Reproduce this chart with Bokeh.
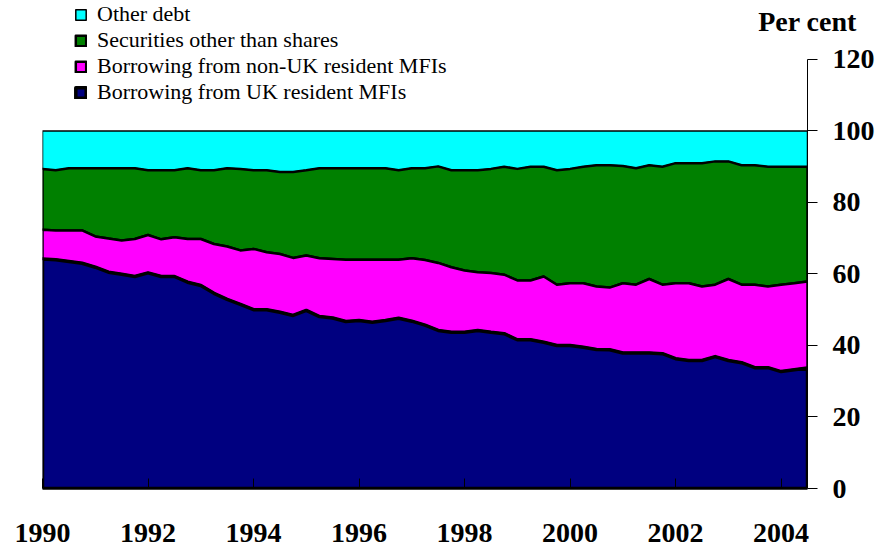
from bokeh.plotting import figure
from bokeh.models import Range1d, FixedTicker, Legend, LegendItem, LinearAxis
from bokeh.embed import file_html
from bokeh.resources import INLINE
import numpy as np

# Quarterly observations, 1990 Q1 to 2004 Q3
quarters = [1990 + q / 4 for q in range(59)]

uk_mfi = [64.2, 64.0, 63.5, 63.0, 61.9, 60.5, 59.9, 59.3, 60.3, 59.3,
          59.3, 57.7, 56.8, 54.6, 52.9, 51.5, 50.0, 50.0, 49.3, 48.4,
          49.8, 48.1, 47.7, 46.7, 47.0, 46.5, 47.0, 47.6, 46.8, 45.7,
          44.2, 43.7, 43.7, 44.2, 43.7, 43.3, 41.6, 41.6, 40.9, 40.0,
          40.0, 39.5, 38.9, 38.8, 37.9, 37.9, 37.9, 37.7, 36.3, 35.8,
          35.8, 36.9, 35.8, 35.2, 33.8, 33.8, 32.7, 33.2, 33.7]

non_uk_mfi = [8.2, 8.2, 8.7, 9.2, 8.6, 9.4, 9.5, 10.5, 10.6, 10.4,
              11.0, 12.1, 13.0, 13.8, 14.8, 15.1, 17.0, 16.1, 16.3, 16.1,
              15.4, 16.3, 16.5, 17.3, 17.0, 17.5, 17.0, 16.4, 17.6, 18.2,
              18.9, 18.2, 17.3, 16.3, 16.6, 16.5, 16.6, 16.6, 18.4, 17.0,
              17.4, 17.9, 17.6, 17.4, 19.5, 19.1, 20.7, 19.3, 21.1, 21.6,
              20.7, 20.1, 22.8, 21.8, 23.2, 22.7, 24.3, 24.2, 24.2]

securities = [17.0, 16.8, 17.4, 17.4, 19.1, 19.7, 20.2, 19.8, 18.1, 19.3,
              18.7, 19.8, 19.2, 20.6, 21.9, 22.8, 22.0, 22.9, 22.9, 24.0,
              23.8, 25.2, 25.4, 25.6, 25.6, 25.6, 25.6, 25.0, 25.2, 25.7,
              27.0, 27.1, 28.0, 28.5, 29.1, 30.2, 31.2, 31.8, 30.7, 32.0,
              32.0, 32.6, 33.9, 34.2, 32.8, 32.6, 31.8, 33.0, 33.6, 33.6,
              34.5, 34.5, 32.9, 33.4, 33.4, 33.5, 33.0, 32.6, 32.1]

other_debt = [10.6, 11.0, 10.4, 10.4, 10.4, 10.4, 10.4, 10.4, 11.0, 11.0,
              11.0, 10.4, 11.0, 11.0, 10.4, 10.6, 11.0, 11.0, 11.5, 11.5,
              11.0, 10.4, 10.4, 10.4, 10.4, 10.4, 10.4, 11.0, 10.4, 10.4,
              9.9, 11.0, 11.0, 11.0, 10.6, 10.0, 10.6, 10.0, 10.0, 11.0,
              10.6, 10.0, 9.6, 9.6, 9.8, 10.4, 9.6, 10.0, 9.0, 9.0,
              9.0, 8.5, 8.5, 9.6, 9.6, 10.0, 10.0, 10.0, 10.0]

series_names = ["Borrowing from UK resident MFIs",
                "Borrowing from non-UK resident MFIs",
                "Securities other than shares",
                "Other debt"]
series_colors = ["#000080", "#FF00FF", "#008000", "#00FFFF"]
series_widths = [3.5, 2.5, 2.5, 1.5]

year_ticks = [1990, 1992, 1994, 1996, 1998, 2000, 2002, 2004]
year_labels = ["1990", "1992", "1994", "1996", "1998", "2000", "2002", "2004"]
pct_ticks = [0, 20, 40, 60, 80, 100, 120]
unit_label = "Per cent"

FONT = "Liberation Serif"

p = figure(width=882, height=554, output_backend="svg", toolbar_location=None,
           x_range=Range1d(quarters[0], quarters[-1]),
           y_range=Range1d(0, 136.5),
           y_axis_location="right",
           min_border_left=42, min_border_right=75,
           min_border_top=0, min_border_bottom=66)
p.outline_line_color = None
p.xgrid.visible = False
p.ygrid.visible = False
p.background_fill_color = "white"

data = [uk_mfi, non_uk_mfi, securities, other_debt]
cum = np.cumsum(np.array(data), axis=0)
lower = [np.zeros(len(quarters))] + [cum[k - 1] for k in range(1, 4)]

renderers = {}
xs = list(quarters) + list(quarters[::-1])
for k in [3, 2, 1, 0]:
    ys = list(cum[k]) + list(lower[k][::-1])
    r = p.patch(xs, ys, fill_color=series_colors[k], line_color="black",
                line_width=series_widths[k], line_join="round")
    renderers[k] = r

legend = Legend(items=[LegendItem(label=series_names[k], renderers=[renderers[k]])
                       for k in [3, 2, 1, 0]],
                location=(32, 383), orientation="vertical",
                glyph_width=13, glyph_height=13, label_height=24,
                label_standoff=10, spacing=0, padding=0, margin=0,
                border_line_color=None, background_fill_alpha=0,
                label_text_font=FONT, label_text_font_size="22px",
                label_text_color="black")
p.add_layout(legend)

# bottom axis
xa = p.xaxis[0]
xa.ticker = FixedTicker(ticks=year_ticks)
xa.major_label_overrides = {t: l for t, l in zip(year_ticks, year_labels)}
xa.minor_tick_line_color = None
xa.major_tick_in = 10
xa.major_tick_out = 0
xa.major_tick_line_width = 1
xa.major_tick_line_color = "black"
xa.axis_line_width = 2.5
xa.axis_line_color = "black"
xa.major_label_standoff = 35
xa.major_label_text_font = FONT
xa.major_label_text_font_style = "bold"
xa.major_label_text_font_size = "28px"
xa.major_label_text_color = "black"

# right axis
ya = p.yaxis[0]
ya.ticker = FixedTicker(ticks=pct_ticks)
ya.bounds = (0, 120)
ya.minor_tick_line_color = None
ya.major_tick_in = 0
ya.major_tick_out = 10
ya.major_tick_line_color = "black"
ya.axis_line_color = "black"
ya.axis_line_width = 1
ya.major_label_standoff = 15
ya.major_label_text_font = FONT
ya.major_label_text_font_style = "bold"
ya.major_label_text_font_size = "28px"
ya.major_label_text_color = "black"

# unit caption above the right axis, as a bare top axis label
ua = LinearAxis(ticker=FixedTicker(ticks=[quarters[-1]]),
                major_label_overrides={quarters[-1]: unit_label},
                axis_line_color=None, major_tick_line_color=None,
                minor_tick_line_color=None, major_tick_out=0, major_tick_in=0,
                major_label_standoff=-36,
                major_label_text_font=FONT, major_label_text_font_style="bold",
                major_label_text_font_size="28px", major_label_text_color="black")
p.add_layout(ua, "above")

open("out.html", "w").write(file_html(p, INLINE))
